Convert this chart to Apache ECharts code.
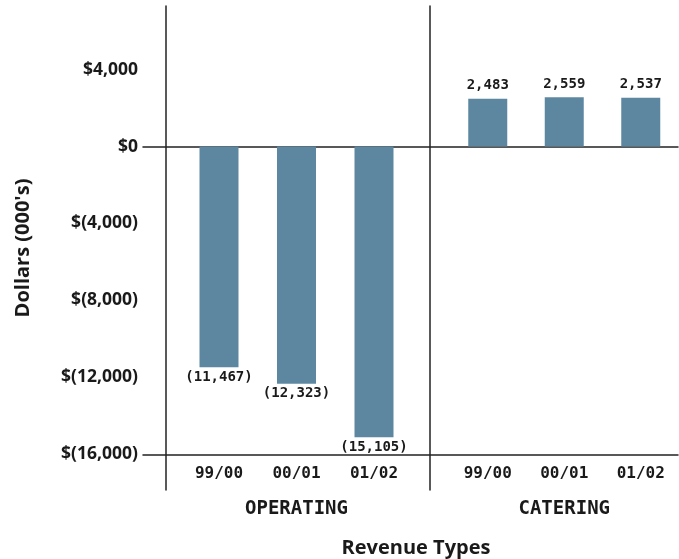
<!DOCTYPE html>
<html>
<head>
<meta charset="utf-8">
<script src="https://cdn.jsdelivr.net/npm/echarts@6/dist/echarts.min.js"></script>
<style>
  html, body { margin: 0; padding: 0; background: #fff; }
  #chart { width: 679px; height: 559px; }
</style>
</head>
<body>
<div id="chart"></div>
<script>
// Fiscal periods shown under each revenue group
const periods = ['99/00', '00/01', '01/02'];
// Net revenue per period, thousands of dollars
const operating = [-11467, -12323, -15105];
const catering = [2483, 2559, 2537];
const groupNames = ['OPERATING', 'CATERING'];

// Value scale shared by every grid
const valueMin = -16000;
const valueMax = 7300;
const valueStep = 4000;

const ink = '#1a1a1a';
const rule = '#222';
const barColor = '#5d87a0';
const sans = '"Open Sans", "DejaVu Sans", sans-serif';
const mono = '"DejaVu Sans Mono", monospace';

const fmt = v => Math.abs(v).toLocaleString('en-US');

// "$4,000", "$0", "$(4,000)" — only on whole steps
function moneyLabel(v) {
  if (v % valueStep !== 0) return '';
  if (v === 0) return '$0';
  return v > 0 ? '$' + fmt(v) : '$(' + fmt(v) + ')';
}
// Accounting style for the bar labels
function valueLabel(v) {
  return v < 0 ? '(' + fmt(v) + ')' : fmt(v);
}

const plotTop = 6;
const plotHeight = 448.5;
const frameBottom = 69;
const lineStyle = { color: rule, width: 1.5 };

const hiddenValueAxis = (gridIndex) => ({
  gridIndex, type: 'value', min: valueMin, max: valueMax, interval: valueStep,
  show: false
});

const periodAxis = (gridIndex, name) => ({
  gridIndex, type: 'category', data: periods, position: 'bottom',
  axisLine: { show: false, onZero: false },
  axisTick: { show: false },
  splitLine: { show: false },
  axisLabel: { margin: 11, color: ink, fontFamily: mono, fontWeight: 'bold', fontSize: 16 },
  name, nameLocation: 'middle', nameGap: 45,
  nameTextStyle: { color: ink, fontFamily: mono, fontWeight: 'bold', fontSize: 19 }
});

const barItems = values => values.map(v => ({
  value: v,
  label: { position: v < 0 ? 'bottom' : 'top', distance: v < 0 ? 3 : 6 }
}));

const barSeries = (axisIndex, values) => ({
  type: 'bar',
  xAxisIndex: axisIndex, yAxisIndex: axisIndex,
  data: barItems(values),
  barWidth: 39,
  itemStyle: { color: barColor },
  label: {
    show: true,
    formatter: p => valueLabel(p.value),
    color: ink, fontFamily: mono, fontWeight: 'bold', fontSize: 14
  }
});

const chart = echarts.init(document.getElementById('chart'), null, { renderer: 'canvas' });

chart.setOption({
  animation: false,
  backgroundColor: '#fff',
  title: {
    text: 'Revenue Types',
    left: 416, top: 538, textAlign: 'center', padding: 0,
    textStyle: { color: ink, fontFamily: sans, fontWeight: 'bold', fontSize: 20 }
  },
  grid: [
    // 0: value labels and the zero rule
    { left: 143, right: 1, top: plotTop, height: plotHeight, outerBoundsMode: 'none' },
    // 1: bottom rule
    { left: 143, right: 1, top: plotTop, height: plotHeight, outerBoundsMode: 'none' },
    // 2: left frame line with the value-axis title
    { left: 166, right: 1, top: plotTop, bottom: frameBottom, outerBoundsMode: 'none' },
    // 3: divider between the two revenue groups
    { left: 430, right: 1, top: plotTop, bottom: frameBottom, outerBoundsMode: 'none' },
    // 4: operating bars
    { left: 180.25, width: 232.5, top: plotTop, height: plotHeight, outerBoundsMode: 'none' },
    // 5: catering bars
    { left: 449.5, width: 229.5, top: plotTop, height: plotHeight, outerBoundsMode: 'none' }
  ],
  xAxis: [
    {
      gridIndex: 0, type: 'value', min: 0, max: 1,
      axisLine: { show: true, onZero: true, lineStyle },
      axisTick: { show: false }, axisLabel: { show: false }, splitLine: { show: false }
    },
    {
      gridIndex: 1, type: 'value', min: 0, max: 1,
      axisLine: { show: true, onZero: false, lineStyle },
      axisTick: { show: false }, axisLabel: { show: false }, splitLine: { show: false }
    },
    { gridIndex: 2, type: 'value', min: 0, max: 1, show: false },
    { gridIndex: 3, type: 'value', min: 0, max: 1, show: false },
    periodAxis(4, groupNames[0]),
    periodAxis(5, groupNames[1])
  ],
  yAxis: [
    {
      gridIndex: 0, type: 'value', min: valueMin, max: valueMax, interval: valueStep,
      axisLine: { show: false }, axisTick: { show: false }, splitLine: { show: false },
      axisLabel: {
        formatter: moneyLabel, margin: 5,
        color: ink, fontFamily: sans, fontWeight: 'bold', fontSize: 17.5
      }
    },
    hiddenValueAxis(1),
    {
      gridIndex: 2, type: 'value', min: 0, max: 1,
      axisLine: { show: true, lineStyle },
      axisTick: { show: false }, axisLabel: { show: false }, splitLine: { show: false },
      name: "Dollars (000's)", nameLocation: 'middle', nameRotate: 90, nameGap: 133,
      nameTextStyle: { color: ink, fontFamily: sans, fontWeight: 'bold', fontSize: 20 }
    },
    {
      gridIndex: 3, type: 'value', min: 0, max: 1,
      axisLine: { show: true, lineStyle },
      axisTick: { show: false }, axisLabel: { show: false }, splitLine: { show: false }
    },
    hiddenValueAxis(4),
    hiddenValueAxis(5)
  ],
  series: [
    barSeries(4, operating),
    barSeries(5, catering)
  ]
});
</script>
</body>
</html>
